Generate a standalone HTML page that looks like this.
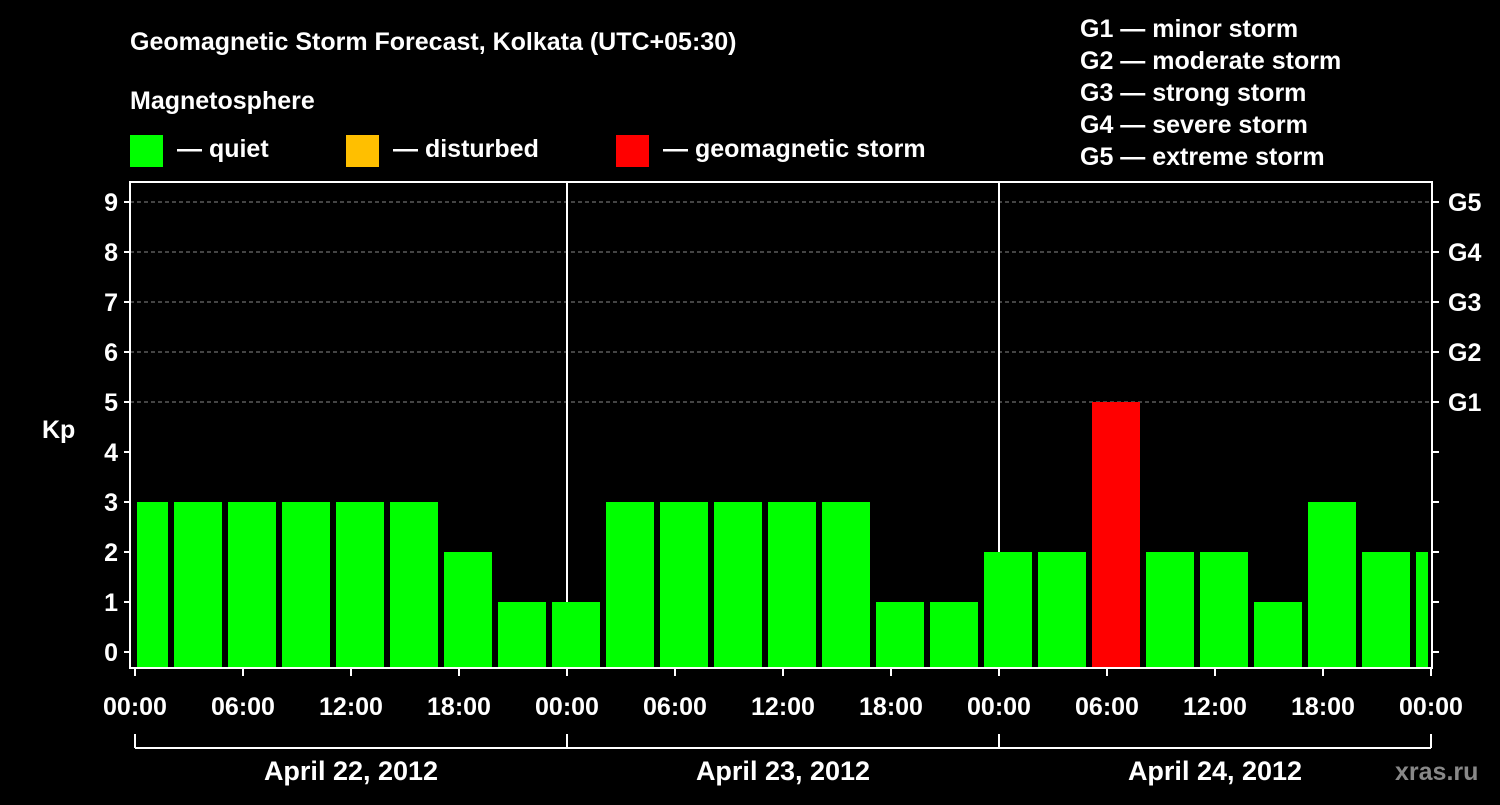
<!DOCTYPE html>
<html><head><meta charset="utf-8"><style>
body{margin:0;background:#000;}
svg text{font-family:"Liberation Sans",Arial,sans-serif;font-weight:bold;fill:#fff;}
</style></head><body>
<svg id="chart" width="1500" height="800" xmlns="http://www.w3.org/2000/svg">
<rect width="1500" height="800" fill="#000"/>
<text x="130" y="50" font-size="25">Geomagnetic Storm Forecast, Kolkata (UTC+05:30)</text>
<text x="130" y="109" font-size="25">Magnetosphere</text>
<g><rect x="130" y="135" width="33" height="32" fill="#00ff00"/><text x="177" y="157" font-size="25">— quiet</text></g>
<g><rect x="346" y="135" width="33" height="32" fill="#ffbf00"/><text x="393" y="157" font-size="25">— disturbed</text></g>
<g><rect x="616" y="135" width="33" height="32" fill="#ff0000"/><text x="663" y="157" font-size="25">— geomagnetic storm</text></g>
<g font-size="25">
<text x="1080" y="37">G1 — minor storm</text>
<text x="1080" y="69">G2 — moderate storm</text>
<text x="1080" y="101">G3 — strong storm</text>
<text x="1080" y="133">G4 — severe storm</text>
<text x="1080" y="165">G5 — extreme storm</text>
</g>
<g id="grid"></g><g id="bars"></g><g id="axes"></g>
<text x="42" y="438" font-size="25">Kp</text>
<text x="1395" y="780" font-size="25" style="fill:#888">xras.ru</text>
</svg>
<script>
const kpValues=[3,3,3,3,3,3,2,1,1,3,3,3,3,3,1,1,2,2,5,2,2,1,3,2,2];
const xTickLabels=["00:00","06:00","12:00","18:00","00:00","06:00","12:00","18:00","00:00","06:00","12:00","18:00","00:00"];
const dayLabels=["April 22, 2012","April 23, 2012","April 24, 2012"];
const yTicks=[0,1,2,3,4,5,6,7,8,9];
const gLabels=["G1","G2","G3","G4","G5"];
const NS="http://www.w3.org/2000/svg";
const X0=135,PXH=18,PL=130,PR=1432,PT=182,PB=668;
const x=h=>X0+h*PXH;
const y=v=>652-v*50;
function mk(tag,attrs,parent,txt){const e=document.createElementNS(NS,tag);for(const k in attrs)e.setAttribute(k,attrs[k]);if(txt!==undefined)e.textContent=txt;parent.appendChild(e);return e;}
const grid=document.getElementById('grid'),bars=document.getElementById('bars'),axes=document.getElementById('axes');
for(let v=5;v<=9;v++){
 const l=mk('line',{x1:PL,x2:PR,y1:y(v),y2:y(v),stroke:'#888','stroke-dasharray':'4,3','stroke-width':1},grid);
 
 
}
kpValues.forEach((v,i)=>{
 const c=x(0.5+3*i);
 let a=Math.max(c-24,137),b=Math.min(c+24,1428);
 const col=v>=5?'#ff0000':(v>=4?'#ffbf00':'#00ff00');
 const r=mk('rect',{x:a,y:y(v),width:b-a,height:667-y(v),fill:col},bars);
 
 
});
for(let d=1;d<3;d++){
 const l=mk('line',{x1:x(24*d),x2:x(24*d),y1:PT,y2:PB,stroke:'#fff','stroke-width':2},grid);
 
 
}
const frame=mk('rect',{x:PL,y:PT,width:PR-PL,height:PB-PT,fill:'none',stroke:'#fff','stroke-width':2},axes);


yTicks.forEach(v=>{
 mk('line',{x1:PL-6,x2:PL,y1:y(v),y2:y(v),stroke:'#fff','stroke-width':2},axes);
 mk('line',{x1:PR,x2:PR+7,y1:y(v),y2:y(v),stroke:'#fff','stroke-width':2},axes);
 const t=mk('text',{x:PL-12,y:y(v)+9,'font-size':25,'text-anchor':'end'},axes,v);
 
 
});
gLabels.forEach((g,i)=>{
 const t=mk('text',{x:1448,y:y(5+i)+9,'font-size':25},axes,g);
 
 
});
xTickLabels.forEach((s,i)=>{
 mk('line',{x1:x(6*i),x2:x(6*i),y1:PB,y2:PB+8,stroke:'#fff','stroke-width':2},axes);
 const t=mk('text',{x:x(6*i),y:715,'font-size':25,'text-anchor':'middle'},axes,s);
 
 
});
mk('line',{x1:x(0),x2:x(72),y1:748,y2:748,stroke:'#fff','stroke-width':2},axes);
for(let d=0;d<=3;d++)mk('line',{x1:x(24*d),x2:x(24*d),y1:734,y2:748,stroke:'#fff','stroke-width':2},axes);
dayLabels.forEach((s,i)=>{
 const t=mk('text',{x:x(24*i+12),y:780,'font-size':27,'text-anchor':'middle'},axes,s);
 
 
});
</script>
</body></html>
